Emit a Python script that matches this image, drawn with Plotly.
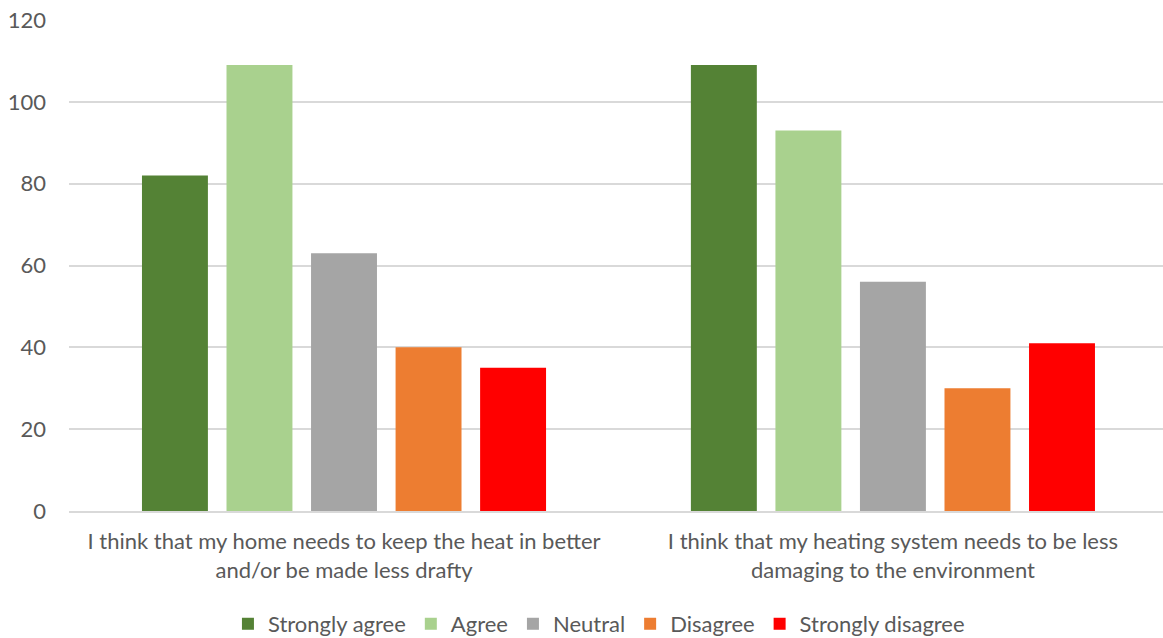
import plotly.graph_objects as go

categories = [
    "I think that my home needs to keep the heat in better<br>and/or be made less drafty",
    "I think that my heating system needs to be less<br>damaging to the environment",
]
series_names = ["Strongly agree", "Agree", "Neutral", "Disagree", "Strongly disagree"]
strongly_agree = [82, 109]
agree = [109, 93]
neutral = [63, 56]
disagree = [40, 30]
strongly_disagree = [35, 41]
colors = ["#548235", "#A9D18E", "#A5A5A5", "#ED7D31", "#FF0000"]

values = [strongly_agree, agree, neutral, disagree, strongly_disagree]

FONT = "Lato"
TEXT_COLOR = "#595959"
SIZE = 22

fig = go.Figure()
for name, vals, col in zip(series_names, values, colors):
    fig.add_trace(go.Bar(x=categories, y=vals, name=name, marker_color=col,
                         marker_line_width=0))

fig.update_layout(
    width=1163, height=638,
    margin=dict(l=69, r=0, t=20, b=127),
    paper_bgcolor="white", plot_bgcolor="white",
    barmode="group", bargap=0.23, bargroupgap=0.22,
    font=dict(family=FONT, size=SIZE, color=TEXT_COLOR),
    showlegend=True,
    legend=dict(orientation="h", x=0.515, xanchor="center", xref="container",
                y=0.022, yanchor="middle", yref="container",
                font=dict(family=FONT, size=SIZE, color=TEXT_COLOR),
                itemwidth=30, traceorder="normal"),
    xaxis=dict(range=[-0.501, 1.492], showgrid=False, showline=True,
               linecolor="#D9D9D9", linewidth=2, ticks="",
               ticklabelstandoff=10,
               tickfont=dict(family=FONT, size=SIZE, color=TEXT_COLOR)),
    yaxis=dict(range=[0, 120], dtick=20, showgrid=True, gridcolor="#D9D9D9",
               gridwidth=1.5, zeroline=False, showline=False, ticks="",
               ticklabelstandoff=22,
               tickfont=dict(family=FONT, size=SIZE, color=TEXT_COLOR)),
)

fig.write_html("out.html")
